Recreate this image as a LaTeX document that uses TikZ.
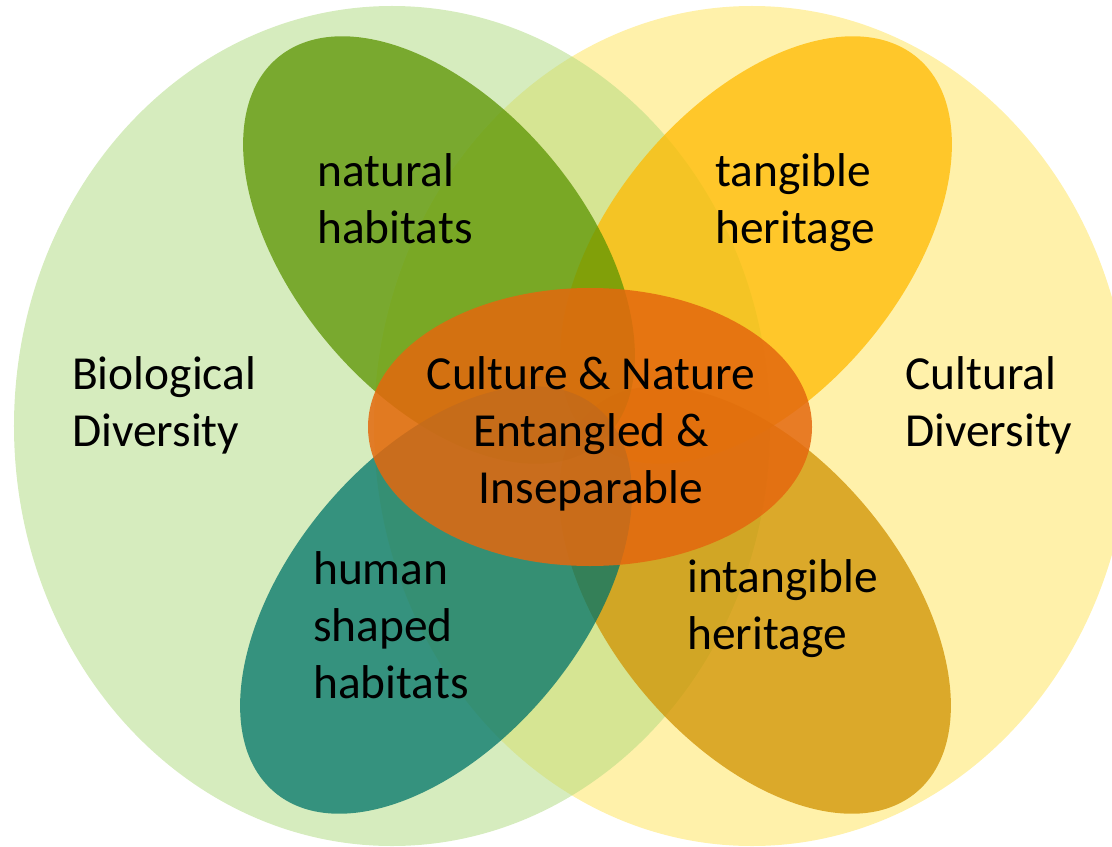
\documentclass[tikz,border=0pt]{standalone}
\usepackage{fontspec}
\setmainfont{Carlito}
\definecolor{bigGreen}{RGB}{173,217,125}
\definecolor{bigYellow}{RGB}{255,227,85}
\definecolor{petalGreen}{RGB}{91,148,0}
\definecolor{petalGold}{RGB}{255,186,0}
\definecolor{petalTeal}{RGB}{0,116,105}
\definecolor{petalOchre}{RGB}{208,146,0}
\definecolor{coreOrange}{RGB}{228,104,14}
\begin{document}
\begin{tikzpicture}[x=1bp,y=-1bp,
  big/.style={fill opacity=0.5},
  petal/.style={fill opacity=0.75},
  core/.style={fill opacity=0.85},
  lbl/.style={font=\fontsize{47.6}{57.7}\selectfont, inner sep=0pt, text=black, text opacity=1}]
\useasboundingbox (0,0) rectangle (1112,847);
\clip (0,0) rectangle (1112,847);
% large circles
\fill[big, bigYellow] (752,426) ellipse [x radius=378bp, y radius=420bp];
\fill[big, bigGreen] (392,426) ellipse [x radius=378bp, y radius=420bp];
% petals
\fill[petal, petalGold, rotate around={50:(756,250)}] (756,250) ellipse [x radius=251bp, y radius=145bp];
\fill[petal, petalOchre, rotate around={-50:(755,600)}] (755,600) ellipse [x radius=251bp, y radius=145bp];
\fill[petal, petalGreen, rotate around={-50:(439,250)}] (439,250) ellipse [x radius=251bp, y radius=145bp];
\fill[petal, petalTeal, rotate around={50:(436,600)}] (436,600) ellipse [x radius=251bp, y radius=145bp];
% core
\fill[core, coreOrange] (590,427) ellipse [x radius=222bp, y radius=139bp];
% labels
\node[lbl, anchor=base west] (bio) at (72,389) {\begin{tabular}[t]{@{}l@{}}Biological\\Diversity\end{tabular}};
\node[lbl, anchor=base west] (cul) at (905,389) {\begin{tabular}[t]{@{}l@{}}Cultural\\Diversity\end{tabular}};
\node[lbl, anchor=base west] (nat) at (317,186) {\begin{tabular}[t]{@{}l@{}}natural\\habitats\end{tabular}};
\node[lbl, anchor=base west] (tan) at (715,186) {\begin{tabular}[t]{@{}l@{}}tangible\\heritage\end{tabular}};
\node[lbl, anchor=base west] (hum) at (313,584) {\begin{tabular}[t]{@{}l@{}}human\\shaped\\habitats\end{tabular}};
\node[lbl, anchor=base west] (int) at (687,592) {\begin{tabular}[t]{@{}l@{}}intangible\\heritage\end{tabular}};
\node[lbl, anchor=base] (core) at (591,389) {\begin{tabular}[t]{@{}c@{}}Culture \& Nature\\Entangled \&\\Inseparable\end{tabular}};
\end{tikzpicture}
\end{document}
